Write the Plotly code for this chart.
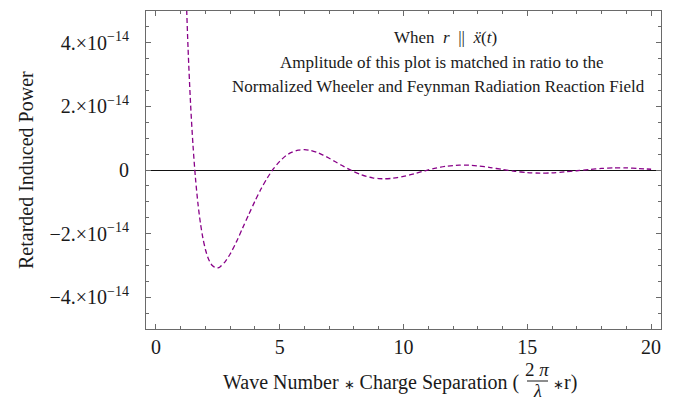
import numpy as np
import plotly.graph_objects as go

# Data (power in units of 1e-14)
wave_sep = [1.20, 1.30, 1.40, 1.50, 1.60, 1.70, 1.80, 1.90, 2.00, 2.10, 2.20, 2.30, 2.40, 2.50,
            2.60, 2.80, 3.00, 3.25, 3.50, 3.75, 4.00, 4.25, 4.50, 4.75, 5.00, 5.25, 5.50, 5.75,
            6.00, 6.25, 6.50, 6.75, 7.00, 7.25, 7.50, 7.75, 8.00, 8.25, 8.50, 8.75, 9.00, 9.25,
            9.50, 9.75, 10.0, 10.25, 10.5, 10.75, 11.0, 11.25, 11.5, 11.75, 12.0, 12.25, 12.5,
            12.75, 13.0, 13.5, 14.0, 14.5, 15.0, 15.5, 16.0, 16.5, 17.0, 17.5, 18.0, 18.5, 19.0,
            19.5, 20.0]
power_e14 = [6.04, 3.80, 2.08, 0.754, -0.274, -1.07, -1.68, -2.15, -2.50, -2.75, -2.92, -3.02,
             -3.07, -3.08, -3.04, -2.88, -2.64, -2.26, -1.83, -1.40, -0.98, -0.59, -0.25, 0.04,
             0.27, 0.45, 0.56, 0.625, 0.64, 0.614, 0.555, 0.47, 0.369, 0.259, 0.148, 0.042,
             -0.055, -0.136, -0.20, -0.245, -0.27, -0.276, -0.265, -0.24, -0.201, -0.155, -0.104,
             -0.051, 0.001, 0.048, 0.089, 0.121, 0.141, 0.151, 0.153, 0.147, 0.129, 0.078, 0.017,
             -0.040, -0.081, -0.098, -0.090, -0.061, -0.023, 0.015, 0.049, 0.067, 0.066, 0.047,
             0.024]
POWER_UNIT = 1e-14

x_ticks = [0, 5, 10, 15, 20]
x_ticklabels = ["0", "5", "10", "15", "20"]
y_ticks_e14 = [-4, -2, 0, 2, 4]
y_ticklabels = ["−4.×10<sup>−14</sup>", "−2.×10<sup>−14</sup>", "0",
                "2.×10<sup>−14</sup>", "4.×10<sup>−14</sup>"]

FONT = "Liberation Serif, Times New Roman, serif"
FRAME = "#6a6a6a"
STAR = "<span style='font-size:13px'>∗</span>"

y_vals = np.array(power_e14) * POWER_UNIT
y_tickvals = np.array(y_ticks_e14) * POWER_UNIT

fig = go.Figure()
fig.add_trace(go.Scatter(
    x=wave_sep, y=y_vals, mode="lines",
    line=dict(color="#880088", width=1.3, dash="5px,3px", shape="spline", smoothing=0.8),
    hoverinfo="skip", showlegend=False,
))

W, H = 678, 403
L, R, T, B = 146, 17, 11, 74
pw, ph = W - L - R, H - T - B

def px(xp):
    return (xp - L) / pw

def py(yp):
    return 1 - (yp - T) / ph

fig.update_layout(
    width=W, height=H,
    margin=dict(l=L, r=R, t=T, b=B),
    paper_bgcolor="white", plot_bgcolor="white",
    font=dict(family=FONT, size=20, color="#1a1a1a"),
    xaxis=dict(
        range=[-0.4, 20.4], showgrid=False, zeroline=False,
        showline=True, linecolor=FRAME, linewidth=1.2, mirror="allticks",
        ticks="inside", ticklen=5, tickcolor=FRAME, tickwidth=1,
        tickvals=x_ticks, ticktext=x_ticklabels, ticklabelstandoff=0,
        minor=dict(dtick=1, tick0=0, ticks="inside", ticklen=3, tickcolor=FRAME, showgrid=False),
    ),
    yaxis=dict(
        range=[-5.0e-14, 5.0e-14], showgrid=False,
        zeroline=True, zerolinecolor="#111111", zerolinewidth=1,
        showline=True, linecolor=FRAME, linewidth=1.2, mirror="allticks",
        ticks="inside", ticklen=5, tickcolor=FRAME, tickwidth=1,
        tickvals=y_tickvals, ticktext=y_ticklabels, ticklabelstandoff=12,
        minor=dict(dtick=0.5e-14, tick0=0, ticks="inside", ticklen=3, tickcolor=FRAME, showgrid=False),
    ),
)

ann = []
# y axis title
ann.append(dict(text="Retarded Induced Power", xref="paper", yref="paper",
                x=px(26), y=py(170), textangle=-90, showarrow=False,
                xanchor="center", yanchor="middle", font=dict(size=20)))
# x axis title (with fraction)
ann.append(dict(text="Wave Number " + STAR + " Charge Separation (", xref="paper", yref="paper",
                x=px(521), y=py(382), showarrow=False, xanchor="right", yanchor="middle",
                font=dict(size=20)))
ann.append(dict(text="2 <i>π</i>", xref="paper", yref="paper",
                x=px(537), y=py(369), showarrow=False, xanchor="center", yanchor="middle",
                font=dict(size=19)))
ann.append(dict(text="<i>λ</i>", xref="paper", yref="paper",
                x=px(537), y=py(391), showarrow=False, xanchor="center", yanchor="middle",
                font=dict(size=18)))
ann.append(dict(text=STAR + "r)", xref="paper", yref="paper",
                x=px(551), y=py(382), showarrow=False, xanchor="left", yanchor="middle",
                font=dict(size=20)))
# inset text
ann.append(dict(text="When  <i>r</i>  ||  <i>ẍ</i>(<i>t</i>)", xref="paper", yref="paper",
                x=px(445), y=py(38), showarrow=False, xanchor="center", yanchor="middle",
                font=dict(size=17)))
ann.append(dict(text="Amplitude of this plot is matched in ratio to the", xref="paper", yref="paper",
                x=px(441), y=py(63), showarrow=False, xanchor="center", yanchor="middle",
                font=dict(size=17)))
ann.append(dict(text="Normalized Wheeler and Feynman Radiation Reaction Field", xref="paper", yref="paper",
                x=px(438), y=py(86), showarrow=False, xanchor="center", yanchor="middle",
                font=dict(size=17)))
fig.update_layout(annotations=ann)

# fraction bar
fig.add_shape(type="line", xref="paper", yref="paper",
              x0=px(527), x1=px(548), y0=py(381), y1=py(381),
              line=dict(color="#1a1a1a", width=1))

fig.write_html("out.html")
